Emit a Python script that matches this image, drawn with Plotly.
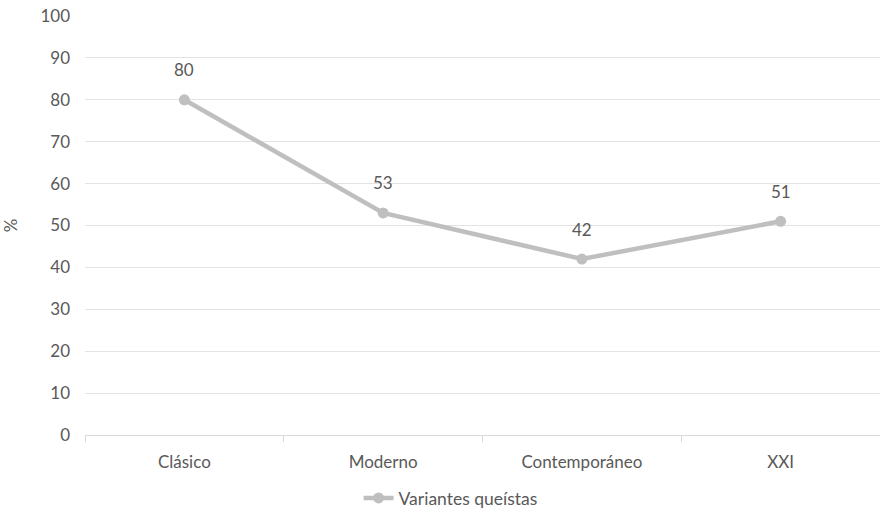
import plotly.graph_objects as go

categories = ["Clásico", "Moderno", "Contemporáneo", "XXI"]
values = [80, 53, 42, 51]
series_name = "Variantes queístas"
y_ticks = [0, 10, 20, 30, 40, 50, 60, 70, 80, 90, 100]

FONT = "Lato, 'Liberation Sans Narrow', sans-serif"
TXT = "#595959"

fig = go.Figure()
fig.add_trace(go.Scatter(
    x=categories, y=values, mode="lines+markers", name=series_name,
    line=dict(color="#BFBFBF", width=4.5),
    marker=dict(color="#BFBFBF", size=11),
))
for c, v in zip(categories, values):
    fig.add_annotation(x=c, y=v, text=str(v), showarrow=False, yshift=30,
                       font=dict(family=FONT, size=17, color=TXT))

fig.update_layout(
    width=880, height=516,
    margin=dict(l=85, r=0, t=16, b=81, autoexpand=False),
    paper_bgcolor="white", plot_bgcolor="white",
    font=dict(family=FONT, size=17, color=TXT),
    showlegend=True,
    legend=dict(orientation="h", x=0.512, xanchor="center", xref="container",
                y=0.0, yanchor="bottom", yref="container",
                font=dict(family=FONT, size=17.5, color=TXT)),
    xaxis=dict(type="category", range=[-0.5, 3.5], showgrid=False,
               showline=True, linecolor="#D9D9D9", linewidth=1,
               ticks="outside", tickson="boundaries", ticklen=6, tickcolor="#D9D9D9",
               ticklabelstandoff=12, automargin=False,
               tickfont=dict(family=FONT, size=17, color=TXT)),
    yaxis=dict(range=[0, 100], tickvals=y_ticks, showgrid=True, gridcolor="#E3E3E3",
               gridwidth=1, zeroline=False, showline=False, ticks="",
               ticklabelstandoff=14, automargin=False,
               tickfont=dict(family=FONT, size=17, color=TXT),
               title=dict(text="%", font=dict(family=FONT, size=17, color=TXT), standoff=18)),
)
fig.write_html("out.html")
